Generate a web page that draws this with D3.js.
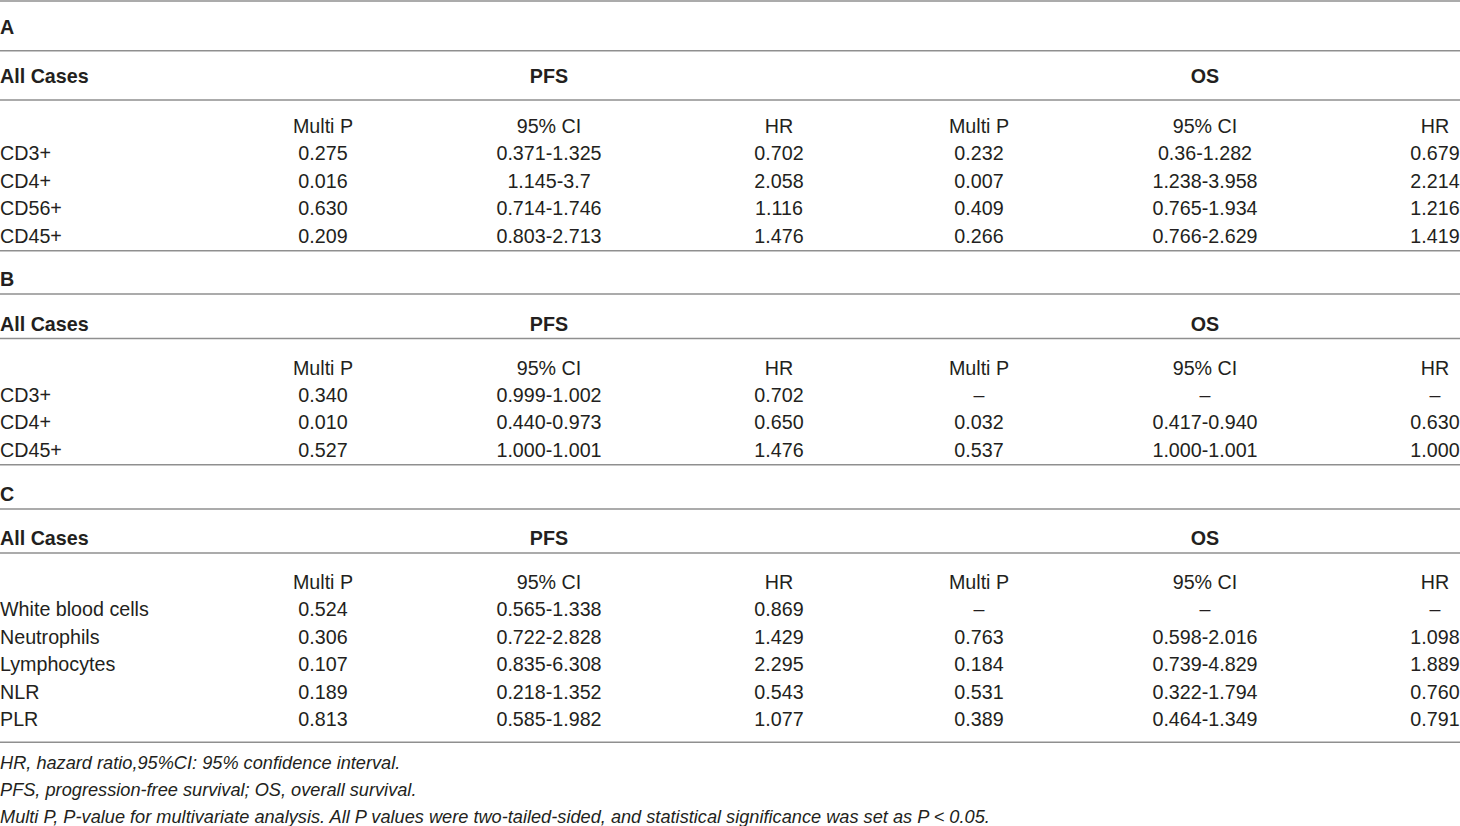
<!DOCTYPE html>
<html>
<head>
<meta charset="utf-8">
<script src="https://cdn.jsdelivr.net/npm/d3@7"></script>
<style>
  body { margin: 0; background: #fff; }
  svg text { font-family: "Liberation Sans", Arial, sans-serif; fill: #231f20; }
</style>
</head>
<body>
<div class="wrapper"></div>
<script>

// ---------------- data ---------------- //

var sectionLabels = ["A", "B", "C"];
var caseLabel = "All Cases";
var groupHeaders = ["PFS", "OS"];
var colHeaders = ["Multi P", "95% CI", "HR", "Multi P", "95% CI", "HR"];

var rowsA = ["CD3+", "CD4+", "CD56+", "CD45+"];
var valuesA = [
	["0.275", "0.371-1.325", "0.702", "0.232", "0.36-1.282", "0.679"],
	["0.016", "1.145-3.7", "2.058", "0.007", "1.238-3.958", "2.214"],
	["0.630", "0.714-1.746", "1.116", "0.409", "0.765-1.934", "1.216"],
	["0.209", "0.803-2.713", "1.476", "0.266", "0.766-2.629", "1.419"]
];

var rowsB = ["CD3+", "CD4+", "CD45+"];
var valuesB = [
	["0.340", "0.999-1.002", "0.702", "\u2013", "\u2013", "\u2013"],
	["0.010", "0.440-0.973", "0.650", "0.032", "0.417-0.940", "0.630"],
	["0.527", "1.000-1.001", "1.476", "0.537", "1.000-1.001", "1.000"]
];

var rowsC = ["White blood cells", "Neutrophils", "Lymphocytes", "NLR", "PLR"];
var valuesC = [
	["0.524", "0.565-1.338", "0.869", "\u2013", "\u2013", "\u2013"],
	["0.306", "0.722-2.828", "1.429", "0.763", "0.598-2.016", "1.098"],
	["0.107", "0.835-6.308", "2.295", "0.184", "0.739-4.829", "1.889"],
	["0.189", "0.218-1.352", "0.543", "0.531", "0.322-1.794", "0.760"],
	["0.813", "0.585-1.982", "1.077", "0.389", "0.464-1.349", "0.791"]
];

var footnotes = [
	"HR, hazard ratio,95%CI: 95% confidence interval.",
	"PFS, progression-free survival; OS, overall survival.",
	"Multi P, P-value for multivariate analysis. All P values were two-tailed-sided, and statistical significance was set as P < 0.05."
];

// ---------------- layout ---------------- //

var WIDTH = 1460,
	HEIGHT = 826,
	FONT = 19.7,
	NOTE_FONT = 18.2,
	ROW_STEP = 27.5,
	LINE_COLOR = "#8f8f8f";

// offsets inside each section, measured from its top rule
var sectionLayout = [
	{label: 26, line2: 49.7, cases: 75, line3: 99, header: 125, row0: 152.3, pad: 15},
	{label: 28, line2: 43.3, cases: 73, line3: 87.7, header: 117, row0: 144, pad: 15},
	{label: 29, line2: 44.3, cases: 73, line3: 88.3, header: 117, row0: 144.5, pad: 23}
];

var sections = [
	{rows: rowsA, values: valuesA},
	{rows: rowsB, values: valuesB},
	{rows: rowsC, values: valuesC}
];

// column centres
var x = d3.scaleOrdinal()
	.domain(d3.range(colHeaders.length))
	.range([323, 549, 779, 979, 1205, 1435]);

var xGroup = d3.scaleOrdinal()
	.domain(groupHeaders)
	.range([549, 1205]);

var svg = d3.select(".wrapper")
	.append("svg")
		.attr("width", WIDTH)
		.attr("height", HEIGHT);

function rule(y) {
	svg.append("line")
		.attr("x1", 0)
		.attr("x2", WIDTH)
		.attr("y1", y)
		.attr("y2", y)
		.attr("stroke", LINE_COLOR)
		.attr("stroke-width", 1.5);
}

function label(txt, xx, y, opts) {
	opts = opts || {};
	return svg.append("text")
		.attr("x", xx)
		.attr("y", y)
		.attr("dy", "0.36em")
		.attr("text-anchor", opts.anchor || "start")
		.style("font-size", (opts.size || FONT) + "px")
		.style("font-weight", opts.bold ? "bold" : "normal")
		.style("font-style", opts.italic ? "italic" : "normal")
		.text(txt);
}

var yTop = 1;
rule(yTop);

sections.forEach(function(sec, si) {
	var L = sectionLayout[si];

	var y = d3.scaleLinear()
		.domain([0, 1])
		.range([yTop + L.row0, yTop + L.row0 + ROW_STEP]);

	label(sectionLabels[si], 0, yTop + L.label, {bold: true});
	rule(yTop + L.line2);

	label(caseLabel, 0, yTop + L.cases, {bold: true});
	groupHeaders.forEach(function(g) {
		label(g, xGroup(g), yTop + L.cases, {bold: true, anchor: "middle"});
	});
	rule(yTop + L.line3);

	colHeaders.forEach(function(h, ci) {
		label(h, x(ci), yTop + L.header, {anchor: "middle"});
	});

	var rows = svg.selectAll("g.row-" + si)
		.data(sec.values)
		.enter()
		.append("g")
			.attr("class", "row-" + si);

	rows.each(function(d, ri) {
		label(sec.rows[ri], 0, y(ri));
		d.forEach(function(v, ci) {
			label(v, x(ci), y(ri), {anchor: "middle"});
		});
	});

	yTop = y(sec.rows.length - 1) + L.pad;
	rule(yTop);
});

// footnotes
var yNote = d3.scaleLinear()
	.domain([0, 1])
	.range([yTop + 20, yTop + 47]);

footnotes.forEach(function(n, i) {
	label(n, 0, yNote(i), {italic: true, size: NOTE_FONT});
});

</script>
</body>
</html>
